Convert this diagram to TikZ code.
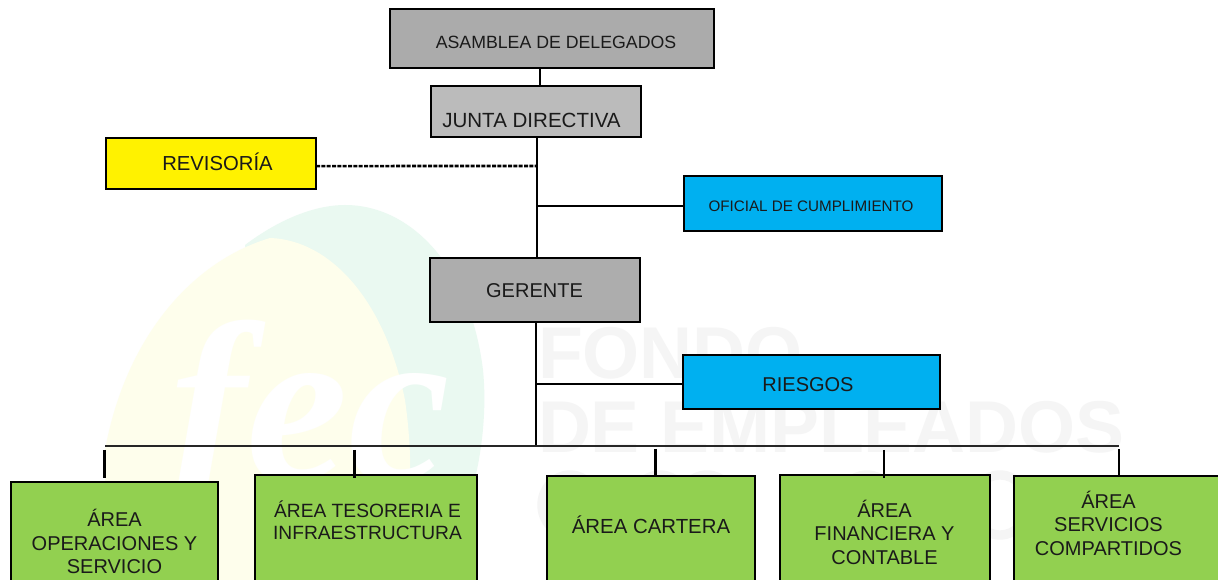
\documentclass[tikz,border=0pt]{standalone}
\usepackage{fontspec}
\setmainfont{Liberation Sans}
\newfontfamily\wmserif{Liberation Serif}
\definecolor{gA}{HTML}{ABABAB}
\definecolor{gJ}{HTML}{BBBBBB}
\definecolor{gG}{HTML}{ADADAD}
\definecolor{bluebox}{HTML}{00B0F0}
\definecolor{areagreen}{HTML}{92D050}
\definecolor{wmgreen}{HTML}{EAF9F1}
\definecolor{wmyellow}{HTML}{FEFEEC}
\definecolor{wmgray}{HTML}{F5F5F5}
\definecolor{ink}{HTML}{1A1A1A}
\tikzset{
  box/.style={draw=black,line width=1.9pt,inner sep=0pt,outer sep=0pt},
  lbl/.style={inner sep=0pt,outer sep=0pt,align=center,text=ink},
  sized/.style={font=\fontsize{#1}{17.6}\selectfont},
  conn/.style={draw=black,line width=1.9pt},
  bus/.style={draw=black!85,line width=1.1pt},
  wm/.style={inner sep=0pt,outer sep=0pt,text=wmgray,font=\fontsize{55}{55}\selectfont\bfseries,anchor=west}
}
\begin{document}
\begin{tikzpicture}[x=0.75pt,y=-0.75pt]
\useasboundingbox (0,0) rectangle (1218,580);
\clip (0,0) rectangle (1218,580);
\fill[white] (0,0) rectangle (1218,580);
% watermark
\fill[wmgreen] (245,245) .. controls (285,215) and (320,205) .. (345,205)
  .. controls (410,205) and (470,265) .. (483,370)
  .. controls (490,440) and (470,530) .. (430,580) -- (300,580) -- cycle;
\fill[wmyellow] (105,450) .. controls (125,340) and (190,262) .. (270,238)
  .. controls (330,240) and (385,300) .. (405,400)
  .. controls (415,470) and (410,530) .. (395,580) -- (115,580)
  .. controls (108,540) and (104,490) .. (105,450) -- cycle;
\node[inner sep=0pt,outer sep=0pt,text=white,anchor=base west,font=\wmserif\fontsize{172}{172}\selectfont\bfseries\itshape] (wmfec) at (170,482) {fec};
\node[wm] (wmfondo) at (538,353) {FONDO};
\node[wm] (wmemp) at (538,427) {DE EMPLEADOS};
\foreach \cx in {570,660,707,867,1000}
  \draw[wmgray,line width=7pt] (\cx,505) ellipse [x radius=28,y radius=30];
% boxes
\node[box,fill=gA,minimum width=243pt,minimum height=44.25pt] (asamblea) at (552,38.5) {};
\node[box,fill=gJ,minimum width=157.5pt,minimum height=38.25pt] (junta) at (536,111.5) {};
\node[box,fill=yellow,minimum width=157.5pt,minimum height=38.25pt] (revisoria) at (211,163.5) {};
\node[box,fill=bluebox,minimum width=193.5pt,minimum height=41.25pt] (oficial) at (813,203.5) {};
\node[box,fill=gG,minimum width=157.5pt,minimum height=48pt] (gerente) at (535,290) {};
\node[box,fill=bluebox,minimum width=192.75pt,minimum height=40.5pt] (riesgos) at (811.5,382) {};
\node[box,fill=areagreen,minimum width=155pt,minimum height=105pt] (area1) at (114.5,552) {};
\node[box,fill=areagreen,minimum width=166.5pt,minimum height=105pt] (area2) at (366,545) {};
\node[box,fill=areagreen,minimum width=156pt,minimum height=105pt] (area3) at (651,546) {};
\node[box,fill=areagreen,minimum width=157.5pt,minimum height=105pt] (area4) at (885,545) {};
\node[box,fill=areagreen,minimum width=156pt,minimum height=105pt] (area5) at (1118,546) {};
% labels
\node[lbl,sized=13.3] (tA) at (556,42) {ASAMBLEA DE DELEGADOS};
\node[lbl,sized=15.4] (tJ) at (531.5,120.5) {JUNTA DIRECTIVA};
\node[lbl,sized=15.2] (tR) at (217.5,161.5) {REVISORÍA};
\node[lbl,sized=11.4] (tO) at (811,206) {OFICIAL DE CUMPLIMIENTO};
\node[lbl,sized=15] (tG) at (534.5,290.5) {GERENTE};
\node[lbl,sized=15] (tRi) at (808,384.5) {RIESGOS};
\node[lbl,sized=15] (t1) at (114.5,541.5) {ÁREA\\OPERACIONES Y\\SERVICIO};
\node[lbl,font=\fontsize{14.4}{16.5}\selectfont] (t2) at (367.5,520) {ÁREA TESORERIA E\\INFRAESTRUCTURA};
\node[lbl,sized=15.3] (t3) at (651,525) {ÁREA CARTERA};
\node[lbl,sized=15] (t4) at (884.5,532) {ÁREA\\FINANCIERA Y\\CONTABLE};
\node[lbl,sized=15] (t5) at (1108.5,523) {ÁREA\\SERVICIOS\\COMPARTIDOS};
% connectors
\coordinate (dashend) at (537,166);
\coordinate (ofj) at (537,206);
\coordinate (rij) at (536,384);
\coordinate (busL) at (105,446);
\coordinate (busR) at (1119,446);
\coordinate (busJ) at (536,446);
\coordinate (s1) at (104.5,450);
\coordinate (s2) at (354.5,450);
\coordinate (s3) at (655.5,449);
\coordinate (s4) at (884,450);
\coordinate (s5) at (1119,449);
\draw[conn] ([xshift=-9pt]asamblea.south) -- ([xshift=3pt]junta.north);
\draw[conn] ([xshift=0.75pt]junta.south) -- ([xshift=1.5pt]gerente.north);
\draw[conn,dash pattern=on 3pt off 1pt] ([yshift=-1.9pt]revisoria.east) -- (dashend);
\draw[conn] (ofj) -- (ofj -| oficial.west);
\draw[conn] (gerente.south -| rij) -- (busJ);
\draw[conn] (rij) -- (rij -| riesgos.west);
\draw[bus] (busL) -- (busR);
\draw[conn,shorten >=3pt] (s1) -- (s1 |- area1.north);
\draw[conn,shorten >=-2pt] (s2) -- (s2 |- area2.north);
\draw[conn] (s3) -- (s3 |- area3.north);
\draw[conn,shorten >=-2pt] (s4) -- (s4 |- area4.north);
\draw[conn] (s5) -- (s5 |- area5.north);
\end{tikzpicture}
\end{document}
